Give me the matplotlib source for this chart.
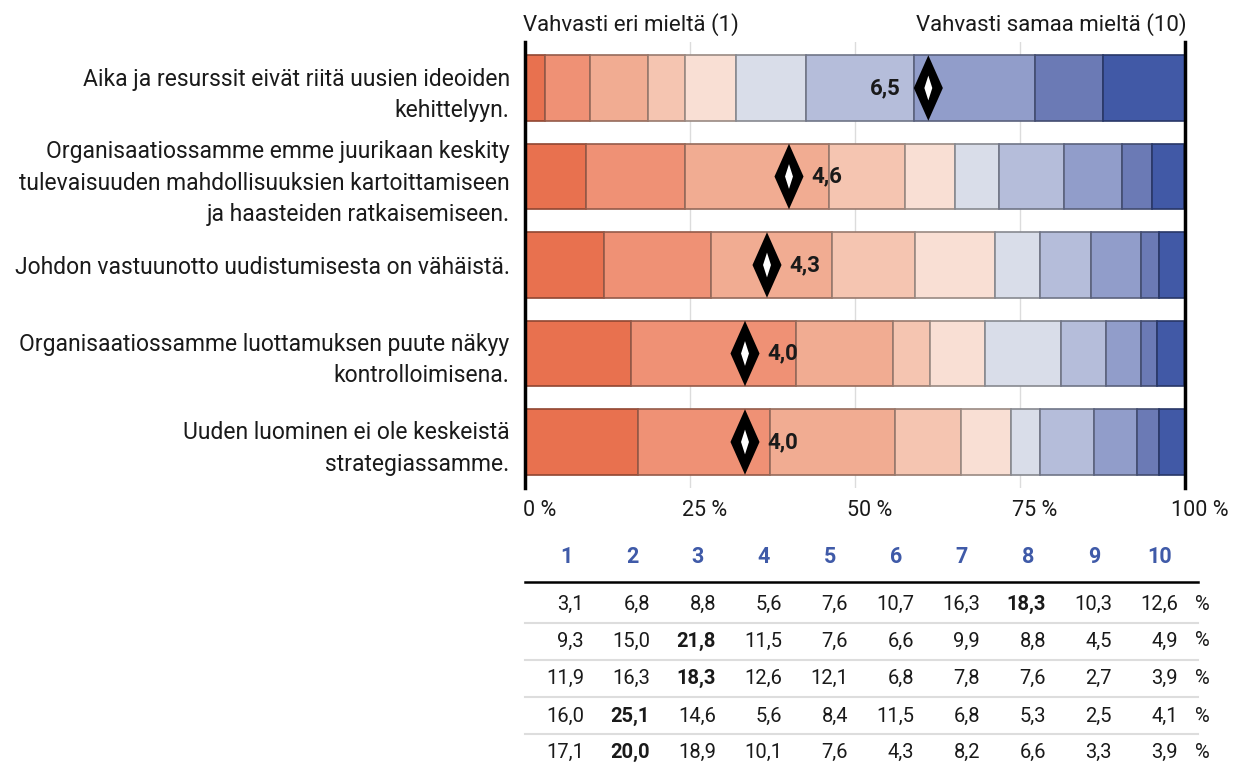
import matplotlib
matplotlib.use("Agg")
import matplotlib.pyplot as plt
from matplotlib.colors import to_rgb
from matplotlib.transforms import ScaledTranslation
import numpy as np

plt.rcParams['font.family'] = ['Roboto', 'DejaVu Sans']

statements = [
    "Aika ja resurssit eivät riitä uusien ideoiden\nkehittelyyn.",
    "Organisaatiossamme emme juurikaan keskity\ntulevaisuuden mahdollisuuksien kartoittamiseen\nja haasteiden ratkaisemiseen.",
    "Johdon vastuunotto uudistumisesta on vähäistä.",
    "Organisaatiossamme luottamuksen puute näkyy\nkontrolloimisena.",
    "Uuden luominen ei ole keskeistä\nstrategiassamme.",
]
scale_points = ["1", "2", "3", "4", "5", "6", "7", "8", "9", "10"]
shares = [
    [3.1, 6.8, 8.8, 5.6, 7.6, 10.7, 16.3, 18.3, 10.3, 12.6],
    [9.3, 15.0, 21.8, 11.5, 7.6, 6.6, 9.9, 8.8, 4.5, 4.9],
    [11.9, 16.3, 18.3, 12.6, 12.1, 6.8, 7.8, 7.6, 2.7, 3.9],
    [16.0, 25.1, 14.6, 5.6, 8.4, 11.5, 6.8, 5.3, 2.5, 4.1],
    [17.1, 20.0, 18.9, 10.1, 7.6, 4.3, 8.2, 6.6, 3.3, 3.9],
]
means = [6.5, 4.6, 4.3, 4.0, 4.0]
x_ticks = [0, 25, 50, 75, 100]
left_label = "Vahvasti eri mieltä (1)"
right_label = "Vahvasti samaa mieltä (10)"

palette = ["#E8714F", "#EF9175", "#F1AC92", "#F5C5B1", "#F9DFD4",
           "#D9DDE9", "#B5BDDA", "#919DCA", "#6B7AB5", "#4159A6"]
header_color = "#3F5AA8"
text_color = "#1a1a1a"


def fmt(v):
    return f"{v:.1f}".replace(".", ",")


W, H = 1243, 775
fig = plt.figure(figsize=(W / 100, H / 100), dpi=100)
ax_left, ax_right = 525, 1185
ax_top, ax_bottom = 42, 488
ax = fig.add_axes([ax_left / W, 1 - ax_bottom / H,
                   (ax_right - ax_left) / W, (ax_bottom - ax_top) / H])

bar_h = 0.74
n = len(statements)
ypos = np.arange(n)
for i, row in enumerate(shares):
    left = 0.0
    for j, v in enumerate(row):
        c = np.array(to_rgb(palette[j]))
        ax.barh(i, v, left=left, height=bar_h, color=c,
                edgecolor=tuple(c * 0.62), linewidth=1.2, zorder=2)
        left += v

# mean markers: black diamond with a small white core
dx, dy = 2.2, bar_h / 2
for i, m in enumerate(means):
    xm = (m - 1) / 9 * 100
    ax.fill([xm - dx, xm, xm + dx, xm], [i, i - dy, i, i + dy],
            color="black", zorder=4, lw=0)
    ax.fill([xm - 0.6, xm, xm + 0.6, xm], [i, i - 0.14, i, i + 0.14],
            color="white", zorder=5, lw=0)
    if m > 5.5:
        ax.text(xm - dx - 2.0, i, fmt(m), ha="right", va="center",
                fontsize=16, fontweight="bold", zorder=6, color=text_color)
    else:
        ax.text(xm + dx + 1.2, i, fmt(m), ha="left", va="center",
                fontsize=16, fontweight="bold", zorder=6, color=text_color)

ax.set_xlim(0, 100)
ax.set_ylim(n - 0.48, -0.52)
ax.set_yticks(ypos)
ax.set_yticklabels(statements, fontsize=16.5, color=text_color, linespacing=1.45)
ax.tick_params(axis="y", length=0, pad=11)
ax.set_xticks(x_ticks)
ax.set_xticklabels([f"{t} %" for t in x_ticks], fontsize=15.5, color=text_color)
ax.tick_params(axis="x", length=0, pad=9)
shift = ScaledTranslation(15 / 100, 0, fig.dpi_scale_trans)
for lbl in ax.get_xticklabels():
    lbl.set_transform(lbl.get_transform() + shift)
for t in x_ticks[1:-1]:
    ax.axvline(t, color="#DCDCDC", lw=1, zorder=0)
for s in ["top", "bottom"]:
    ax.spines[s].set_visible(False)
for s in ["left", "right"]:
    ax.spines[s].set_linewidth(2.5)
    ax.spines[s].set_color("black")

fig.text(523 / W, 1 - 25 / H, left_label, ha="left", va="center",
         fontsize=16, color=text_color)
fig.text(1187 / W, 1 - 25 / H, right_label, ha="right", va="center",
         fontsize=16, color=text_color)

# frequency table
col_centers = [566 + 66 * k for k in range(len(scale_points))]
header_y = 557
for k, lab in enumerate(scale_points):
    fig.text(col_centers[k] / W, 1 - header_y / H, lab, ha="center", va="center",
             fontsize=15.5, fontweight="bold", color=header_color)
fig.add_artist(plt.Line2D([525 / W, 1198 / W], [1 - 582 / H, 1 - 582 / H],
                          color="black", lw=1.8))
row_y = [604, 641, 678, 716, 752]
for i, row in enumerate(shares):
    top = int(np.argmax(row))
    for k, v in enumerate(row):
        fig.text((col_centers[k] + 18) / W, 1 - row_y[i] / H, fmt(v),
                 ha="right", va="center", fontsize=14.5, color=text_color,
                 fontweight="bold" if k == top else "normal")
    fig.text(1202 / W, 1 - row_y[i] / H, "%", ha="center", va="center",
             fontsize=14.5, color=text_color)
    if i < n - 1:
        ys = 1 - (row_y[i] + row_y[i + 1]) / 2 / H
        fig.add_artist(plt.Line2D([525 / W, 1198 / W], [ys, ys],
                                  color="#DDDDDD", lw=1.5))

fig.savefig("out.png", dpi=100)
